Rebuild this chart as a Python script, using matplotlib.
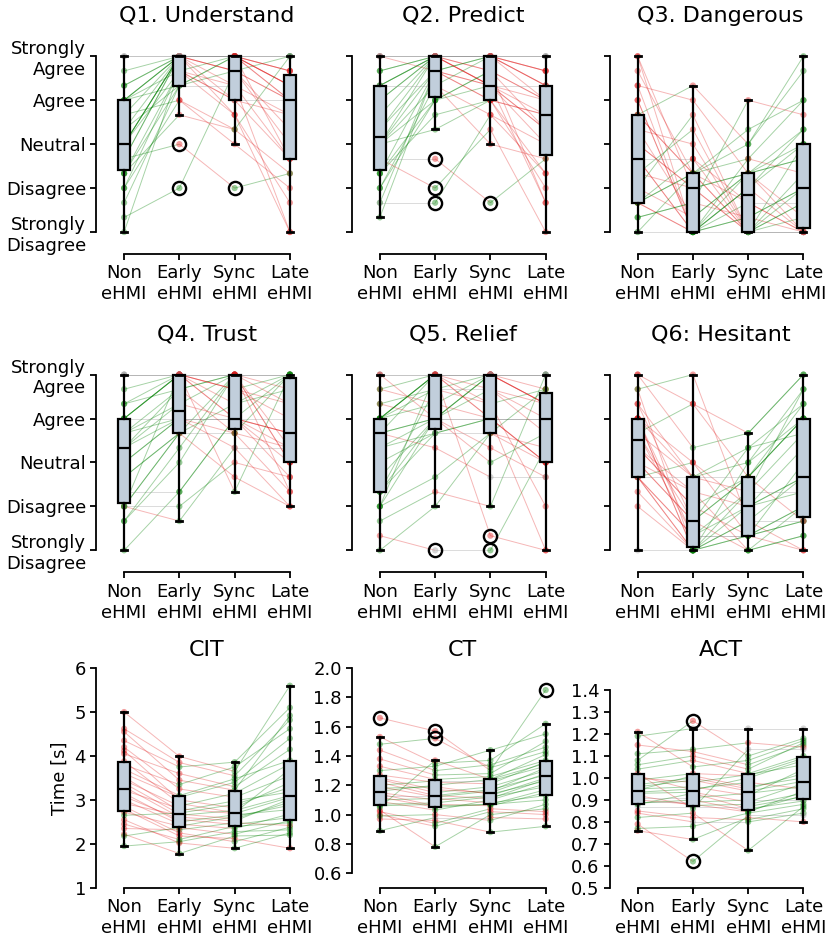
import matplotlib
matplotlib.use('Agg')
import matplotlib.pyplot as plt
import numpy as np

conditions = ['Non\neHMI', 'Early\neHMI', 'Sync\neHMI', 'Late\neHMI']
likert_ticks = [1, 2, 3, 4, 5]
likert_labels = ['Strongly\nDisagree', 'Disagree', 'Neutral', 'Agree', 'Strongly\nAgree']

# Likert questionnaire data: per participant sum of three items (3..15); score = sum / 3
q1_non   = [9,3,12,7,15,6,10,8,9,12,5,13,8,4,11,9,14,7,12,9,6,15,10,8,12,7,13,9,12,11]
q1_early = [15,14,15,13,15,12,15,9,14,15,13,15,15,6,12,15,15,14,13,15,14,15,13,15,14,11,15,15,15,15]
q1_sync  = [15,12,14,15,13,10,15,6,11,15,14,12,14,14,9,15,15,13,15,11,12,15,13,15,15,10,14,15,15,15]
q1_late  = [12,8,15,13,3,7,14,7,5,15,12,11,9,12,6,13,14,8,13,3,12,15,11,13,14,15,10,15,12,8]

q2_non   = [10,4,13,7,15,6,12,9,8,14,5,13,9,7,11,9,15,6,13,8,12,9,15,5,10,7,14,9,13,15]
q2_early = [15,14,15,12,15,13,15,14,8,15,14,15,10,14,15,13,14,12,15,6,15,15,15,5,14,11,15,12,13,15]
q2_sync  = [13,12,15,14,13,11,15,12,5,15,13,14,12,13,15,9,15,13,14,10,15,13,15,11,15,12,13,14,15,15]
q2_late  = [12,7,14,10,5,9,13,11,8,15,11,12,6,10,13,8,14,9,12,3,13,10,15,7,12,11,13,5,14,15]

q3_non   = [8,15,5,11,3,10,6,13,5,9,12,4,7,11,5,14,8,6,10,3,12,5,9,15,7,11,4,13,8,5]
q3_early = [3,6,3,7,3,9,4,3,7,6,3,5,6,13,3,7,3,11,4,7,3,8,6,3,10,7,5,12,8,7]
q3_sync  = [4,3,7,3,6,3,7,5,3,3,8,4,7,9,3,5,6,3,7,10,4,3,7,6,3,9,12,7,5,8]
q3_late  = [6,3,9,4,3,7,10,3,5,3,12,3,8,14,6,3,9,5,3,12,6,9,4,10,3,15,11,8,5,7]

q4_non   = [10,6,12,3,15,8,11,6,12,5,13,9,6,10,12,7,15,6,11,9,12,5,14,8,10,6,13,11,12,15]
q4_early = [12,11,15,7,15,11,13,5,15,9,15,12,11,14,12,7,15,6,14,12,15,10,15,11,13,15,14,12,15,15]
q4_sync  = [12,15,12,12,14,11,15,10,12,15,14,12,13,15,11,12,15,9,15,12,13,15,14,8,12,15,11,10,15,7]
q4_late  = [11,9,15,8,13,10,14,6,11,15,12,10,14,15,7,9,15,8,10,11,15,13,15,6,12,9,15,10,7,15]

q5_non   = [11,6,12,3,15,7,12,10,14,6,11,13,7,12,4,9,15,11,12,5,8,12,6,13,10,14,7,11,12,15]
q5_early = [12,15,14,6,15,11,15,12,13,8,15,12,14,15,3,11,15,12,13,7,12,15,12,14,11,15,12,10,15,12]
q5_sync  = [15,12,13,11,14,12,15,9,15,11,12,15,14,15,3,12,15,10,12,6,14,15,12,15,11,13,15,8,4,12]
q5_late  = [13,9,14,10,12,12,15,11,13,9,12,14,13,15,10,9,13,8,12,15,11,13,9,15,14,6,15,8,3,3]

q6_non   = [11,8,15,9,12,3,10,14,8,12,11,6,13,8,10,9,15,12,8,11,7,12,10,14,8,13,9,11,12,8]
q6_early = [4,3,13,5,8,3,6,3,9,4,5,3,8,3,7,5,10,3,4,8,3,9,6,15,4,5,7,13,3,8]
q6_sync  = [6,4,8,3,7,5,4,9,6,4,8,3,10,4,6,8,11,5,4,9,6,4,8,5,7,10,3,11,7,8]
q6_late  = [10,5,12,6,14,8,3,12,7,6,13,4,11,5,8,12,15,3,6,14,8,9,12,5,11,13,4,15,7,5]

# Timing data [s]
cit_non   = [3.30,2.35,4.55,2.79,3.70,1.95,3.00,4.12,2.55,3.52,5.00,3.15,2.72,3.88,2.22,3.38,2.92,4.35,2.85,3.60,2.45,4.20,3.22,2.18,3.80,3.08,4.62,2.65,4.05,3.45]
cit_early = [2.61,2.32,3.45,2.18,3.10,2.05,2.45,3.00,2.02,2.75,3.99,2.50,2.40,2.92,1.78,2.68,2.65,3.75,2.25,3.06,2.10,3.25,2.80,2.37,3.35,2.56,3.85,2.70,3.60,2.86]
cit_sync  = [2.52,2.48,3.22,2.12,3.48,2.28,2.35,2.82,1.90,2.98,3.65,2.66,2.62,2.71,2.18,2.57,2.76,3.86,2.05,3.40,2.40,3.06,2.69,2.22,3.75,2.44,3.55,2.90,3.30,3.15]
cit_late  = [3.02,2.42,4.92,1.90,3.90,2.32,2.68,3.40,2.25,3.18,5.60,2.78,2.88,3.70,2.20,2.95,3.10,5.10,2.38,4.40,2.48,3.55,3.06,2.53,4.62,2.60,4.82,3.28,4.15,3.82]

ct_non   = [1.06,1.24,1.13,1.44,1.00,1.16,1.66,1.09,1.20,0.97,1.30,1.15,1.03,1.48,1.10,1.25,0.89,1.19,1.33,1.07,1.14,1.53,1.02,1.22,1.12,1.38,0.99,1.27,1.18,1.05]
ct_early = [1.07,1.15,1.13,1.30,0.92,1.20,1.57,1.03,1.23,0.96,1.33,1.10,0.78,1.52,1.11,1.17,0.98,1.12,1.24,1.08,1.06,1.35,0.94,1.13,1.05,1.27,1.00,1.22,1.19,1.37]
ct_sync  = [1.06,1.19,1.11,1.34,1.02,1.24,1.30,1.10,1.23,0.88,1.44,1.13,1.00,1.32,1.08,1.15,0.98,1.16,1.26,1.12,1.07,1.37,1.04,1.17,1.07,1.28,0.96,1.21,1.14,1.24]
ct_late  = [1.15,1.30,1.24,1.46,1.00,1.35,1.85,1.21,1.33,0.92,1.55,1.25,1.04,1.43,1.13,1.28,0.97,1.32,1.37,1.19,1.10,1.62,1.02,1.27,1.17,1.50,1.07,1.36,1.23,1.41]

act_non   = [0.87,0.97,0.91,1.15,0.84,1.01,1.08,0.90,1.00,0.76,1.21,0.93,0.82,1.11,0.89,0.945,0.79,0.95,1.04,0.92,0.88,1.19,0.85,0.96,0.885,1.06,0.77,0.99,0.935,1.02]
act_early = [0.87,1.00,0.91,1.12,0.80,0.945,1.26,0.88,0.98,0.72,1.05,0.935,0.84,1.13,0.89,1.01,0.62,0.96,1.08,0.875,0.93,1.225,0.82,0.99,0.90,1.10,0.78,1.02,0.95,0.86]
act_sync  = [0.87,0.95,0.93,1.06,0.80,1.00,1.10,0.845,1.015,0.82,1.08,0.89,0.67,1.16,0.90,0.96,0.83,0.92,1.02,0.88,0.86,1.225,0.81,0.94,0.85,1.04,0.84,1.01,0.98,1.13]
act_late  = [0.915,1.02,0.96,1.15,0.84,1.08,1.18,0.94,1.06,0.80,1.17,0.975,0.87,1.14,0.90,1.00,0.83,1.04,1.10,0.93,0.895,1.225,0.86,0.985,0.92,1.16,0.88,1.09,0.95,1.13]

GREEN = '#008000'
RED = '#e01010'
GREY = '#9a9a9a'
BOXFACE = '#c1cedb'


def draw(ax, data, title):
    data = [np.asarray(d, dtype=float) for d in data]
    n = len(data[0])
    # paired lines
    for p in range(n):
        for i in range(3):
            a, b = data[i][p], data[i + 1][p]
            if b > a:
                col, al = GREEN, 0.35
            elif b < a:
                col, al = RED, 0.3
            else:
                col, al = GREY, 0.35
            ax.plot([i, i + 1], [a, b], color=col, lw=0.7, alpha=al, zorder=1,
                    solid_capstyle='butt')
    # points
    for i in range(4):
        cols = []
        for p in range(n):
            if i < 3:
                a, b = data[i][p], data[i + 1][p]
            else:
                a, b = data[i - 1][p], data[i][p]
            cols.append(GREEN if b > a else (RED if b < a else GREY))
        ax.scatter(np.full(n, i), data[i], c=cols, s=20, alpha=0.4,
                   linewidths=0, zorder=2)
    ax.boxplot(data, positions=np.arange(4), widths=0.22, patch_artist=True,
               zorder=3,
               boxprops=dict(facecolor=BOXFACE, edgecolor='black', linewidth=1.6),
               whiskerprops=dict(color='black', linewidth=1.6),
               capprops=dict(color='black', linewidth=2.0),
               medianprops=dict(color='black', linewidth=1.6),
               flierprops=dict(marker='o', markerfacecolor='none',
                               markeredgecolor='black', markersize=9.5,
                               markeredgewidth=1.7))
    ax.set_title(title, fontsize=16, pad=9)
    ax.set_xlim(-0.5, 3.5)
    ax.set_xticks(np.arange(4))
    ax.set_xticklabels(conditions)
    for s in ['top', 'right']:
        ax.spines[s].set_visible(False)
    for s in ['left', 'bottom']:
        ax.spines[s].set_linewidth(1.3)
    ax.spines['bottom'].set_bounds(0, 3)
    ax.tick_params(axis='both', direction='out', length=4.5, width=1.3,
                   labelsize=13, pad=3)


fig = plt.figure(figsize=(8.31, 9.39), dpi=100)
lefts = [0.1161, 0.4239, 0.7341]
bottoms = [0.7295, 0.3905, 0.0545]
W, H = 0.266, 0.234

likert_panels = [
    ([q1_non, q1_early, q1_sync, q1_late], 'Q1. Understand'),
    ([q2_non, q2_early, q2_sync, q2_late], 'Q2. Predict'),
    ([q3_non, q3_early, q3_sync, q3_late], 'Q3. Dangerous'),
    ([q4_non, q4_early, q4_sync, q4_late], 'Q4. Trust'),
    ([q5_non, q5_early, q5_sync, q5_late], 'Q5. Relief'),
    ([q6_non, q6_early, q6_sync, q6_late], 'Q6: Hesitant'),
]

for k, (sums, title) in enumerate(likert_panels):
    r, c = divmod(k, 3)
    ax = fig.add_axes([lefts[c], bottoms[r], W, H])
    draw(ax, [np.asarray(s, dtype=float) / 3.0 for s in sums], title)
    ax.set_ylim(0.5, 5.5)
    ax.set_yticks(likert_ticks)
    if c == 0:
        ax.set_yticklabels(likert_labels)
    else:
        ax.set_yticklabels([])
    ax.spines['left'].set_bounds(1, 5)

time_panels = [
    ([cit_non, cit_early, cit_sync, cit_late], 'CIT', (1, 6), [1, 2, 3, 4, 5, 6], '{:.0f}'),
    ([ct_non, ct_early, ct_sync, ct_late], 'CT', (0.5, 2.0),
     [0.6, 0.8, 1.0, 1.2, 1.4, 1.6, 1.8, 2.0], '{:.1f}'),
    ([act_non, act_early, act_sync, act_late], 'ACT', (0.5, 1.5),
     [0.5, 0.6, 0.7, 0.8, 0.9, 1.0, 1.1, 1.2, 1.3, 1.4], '{:.1f}'),
]

for c, (d, title, ylim, ticks, fmt) in enumerate(time_panels):
    ax = fig.add_axes([lefts[c], bottoms[2], W, H])
    draw(ax, d, title)
    ax.set_ylim(*ylim)
    ax.set_yticks(ticks)
    ax.set_yticklabels([fmt.format(t) for t in ticks])
    ax.spines['left'].set_bounds(ticks[0], ticks[-1])
    if c == 0:
        ax.set_ylabel('Time [s]', fontsize=13)

fig.savefig('out.png', dpi=100)
